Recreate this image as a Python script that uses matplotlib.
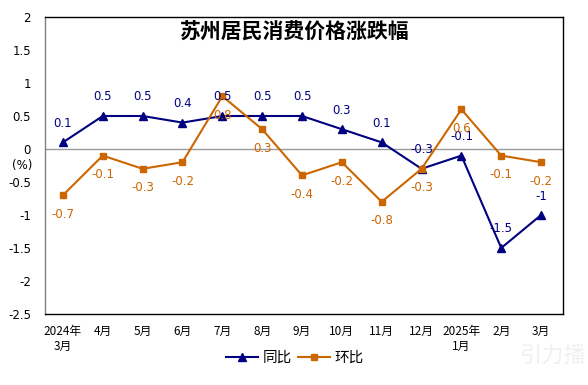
import matplotlib
matplotlib.use("Agg")
import matplotlib.pyplot as plt
from matplotlib.lines import Line2D

plt.rcParams['font.family'] = ['Noto Sans CJK SC', 'DejaVu Sans']

categories = ["2024年\n3月", "4月", "5月", "6月", "7月", "8月", "9月", "10月", "11月", "12月", "2025年\n1月", "2月", "3月"]
yoy = [0.1, 0.5, 0.5, 0.4, 0.5, 0.5, 0.5, 0.3, 0.1, -0.3, -0.1, -1.5, -1]
mom = [-0.7, -0.1, -0.3, -0.2, 0.8, 0.3, -0.4, -0.2, -0.8, -0.3, 0.6, -0.1, -0.2]
yticks = [2, 1.5, 1, 0.5, 0, -0.5, -1, -1.5, -2, -2.5]

navy = '#000080'
orange = '#CC6600'

fig = plt.figure(figsize=(5.88, 3.85), dpi=100)
ax = fig.add_axes([45/588, 1-314/385, (563-45)/588, (314-17)/385])

x = list(range(len(categories)))
ax.axhline(0, color='#9a9a9a', lw=1, zorder=1)
ax.plot(x, yoy, color=navy, lw=1.5, marker='^', markersize=6, zorder=3)
ax.plot(x, mom, color=orange, lw=1.5, marker='s', markersize=4.5, zorder=3)

num_font = ['DejaVu Sans']
for xi, v in zip(x, yoy):
    ax.annotate(f"{v:g}", (xi, v), xytext=(0, 9), textcoords='offset points',
                ha='center', va='bottom', color=navy, fontsize=8.5, family=num_font)
for xi, v in zip(x, mom):
    ax.annotate(f"{v:g}", (xi, v), xytext=(0, -9), textcoords='offset points',
                ha='center', va='top', color=orange, fontsize=8.5, family=num_font)

ax.set_xlim(-0.45, 12.55)
ax.set_ylim(-2.5, 2)
ax.set_yticks(yticks)
ax.set_yticklabels([f"{t:g}" for t in yticks], fontsize=8.5, family=num_font)
ax.set_xticks(x)
ax.set_xticklabels(categories, fontsize=8.5, linespacing=1.15)
ax.tick_params(axis='both', length=0)
ax.tick_params(axis='y', pad=10)
ax.tick_params(axis='x', pad=8)
for s in ax.spines.values():
    s.set_color('black')
    s.set_linewidth(1)
ax.spines['left'].set_color('#808080')

ax.text(0.483, 0.95, "苏州居民消费价格涨跌幅", transform=ax.transAxes, ha='center', va='center',
        fontsize=15, fontweight='bold', color='black')
fig.text(22/588, 1-166/385, "(%)", ha='center', va='center', fontsize=8.5, family=num_font)

handles = [Line2D([], [], color=navy, lw=1.5, marker='^', markersize=6),
           Line2D([], [], color=orange, lw=1.5, marker='s', markersize=4.5)]
fig.legend(handles, ["同比", "环比"], loc='center', bbox_to_anchor=(295/588, 1-358/385),
           ncol=2, frameon=False, fontsize=10.5, handlelength=2.2, columnspacing=0.4, handletextpad=0.3)

fig.text(552/588, 1-355/385, "引力播", ha='center', va='center', fontsize=16, color='#f0f0f0', zorder=0)

fig.savefig("out.png", dpi=100)
